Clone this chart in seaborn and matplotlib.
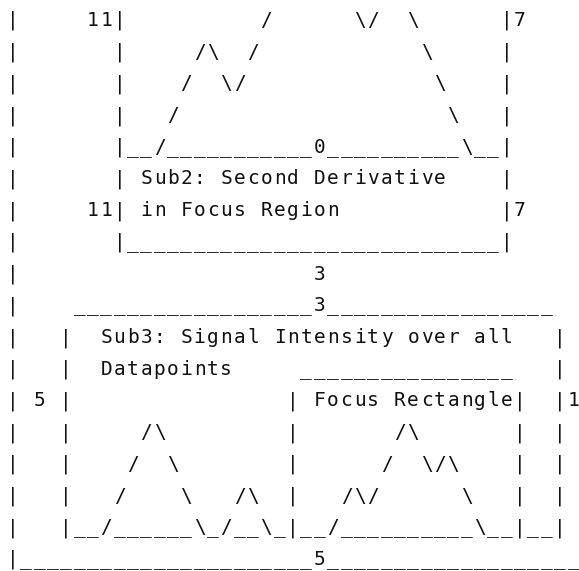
import matplotlib
matplotlib.use("Agg")
import matplotlib.pyplot as plt
import seaborn as sns

# ASCII chart rows, exactly as they appear in the picture (top to bottom)
sub2_rows = [
    "|     11|" + " " * 10 + "/" + " " * 6 + "\\/" + "  " + "\\" + " " * 6 + "|7",
    "|       |" + " " * 5 + "/\\" + "  " + "/" + " " * 12 + "\\" + " " * 5 + "|",
    "|       |" + " " * 4 + "/" + "  " + "\\/" + " " * 14 + "\\" + " " * 4 + "|",
    "|       |" + " " * 3 + "/" + " " * 20 + "\\" + " " * 3 + "|",
    "|       |" + "__/" + "_" * 11 + "0" + "_" * 10 + "\\__|",
    "|       | Sub2: Second Derivative" + " " * 4 + "|",
    "|     11| in Focus Region" + " " * 12 + "|7",
    "|       |" + "_" * 28 + "|",
]

sub3_rows = [
    "|" + " " * 22 + "3",
    "|    " + "_" * 18 + "3" + "_" * 17,
    "|   |  Sub3: Signal Intensity over all" + " " * 3 + "|",
    "|   |  Datapoints" + " " * 5 + "_" * 16 + " " * 3 + "|",
    "| 5 |" + " " * 16 + "| Focus Rectangle|" + "  " + "|1",
    "|   |" + " " * 5 + "/\\" + " " * 9 + "|" + " " * 7 + "/\\" + " " * 7 + "|  |",
    "|   |" + " " * 4 + "/  \\" + " " * 8 + "|" + " " * 6 + "/  \\/\\" + " " * 4 + "|  |",
    "|   |" + " " * 3 + "/    \\   /\\  |   /\\/      \\   |  |",
    "|   |__/______\\_/__\\_|__/__________\\__|__|",
    "|" + "_" * 22 + "5" + "_" * 20,
]

rows = sub2_rows + sub3_rows

sns.set_theme(style="white")
plt.rcParams["font.family"] = ["DejaVu Sans Mono"]

fig = plt.figure(figsize=(5.79, 5.71), dpi=100)
ax = fig.add_axes([0, 0, 1, 1])
ax.set_xlim(0, 579)
ax.set_ylim(571, 0)
ax.axis("off")

cell_w = 13.35
line_h = 31.7
for r, row in enumerate(rows):
    y = 26 + line_h * r
    for c, ch in enumerate(row):
        if ch == " ":
            continue
        ax.text(6 + cell_w * (c + 0.5), y, ch, ha="center", va="baseline",
                fontsize=14, color="#111111")

fig.savefig("out.png", dpi=100, facecolor="white")
